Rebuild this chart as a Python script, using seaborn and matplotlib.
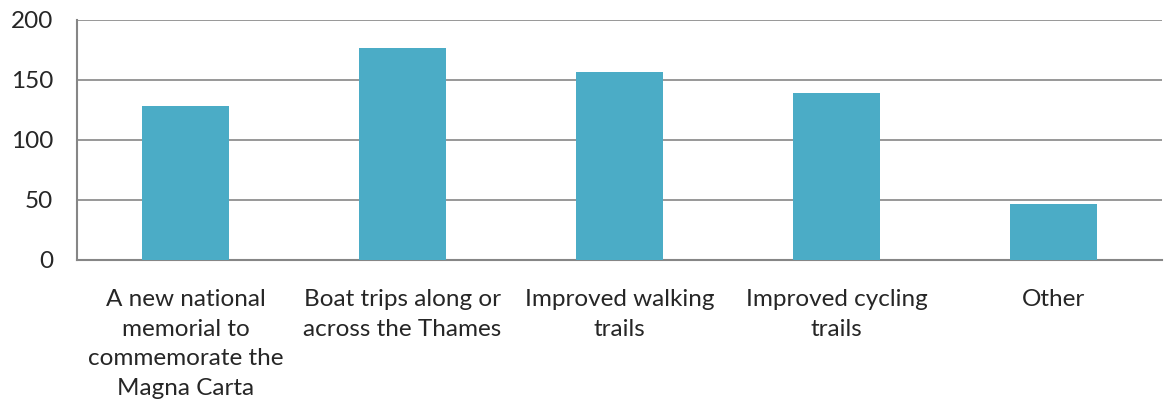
import numpy as np
import pandas as pd
import matplotlib
matplotlib.use('Agg')
import matplotlib.pyplot as plt
import seaborn as sns
from matplotlib.ticker import FixedLocator

categories = [
    'A new national\nmemorial to\ncommemorate the\nMagna Carta',
    'Boat trips along or\nacross the Thames',
    'Improved walking\ntrails',
    'Improved cycling\ntrails',
    'Other',
]
counts = [128, 177, 157, 139, 47]
y_ticks = [0, 50, 100, 150, 200]

bar_color = '#4BACC6'
grid_color = '#868686'

sns.set_style('white')
plt.rcParams['font.family'] = ['Lato', 'DejaVu Sans']

df = pd.DataFrame({'category': categories, 'count': counts})

fig = plt.figure(figsize=(11.64, 4.07), dpi=100)
ax = fig.add_axes([77 / 1164, 147 / 407, 1085 / 1164, 240 / 407])

sns.barplot(data=df, x='category', y='count', color=bar_color,
            width=0.4, saturation=1, linewidth=0, ax=ax, zorder=3)

ax.set_xlim(-0.5, len(categories) - 0.5)
ax.set_ylim(0, 200)
ax.set_yticks(y_ticks)
ax.yaxis.grid(True, color=grid_color, linewidth=1.2, zorder=0)
ax.set_axisbelow(True)

# tick marks sit between categories, labels in the middle
ax.xaxis.set_minor_locator(FixedLocator(np.arange(-0.5, len(categories), 1.0)))
ax.tick_params(axis='x', which='major', length=0, pad=21, labelsize=17.5)
ax.tick_params(axis='x', which='minor', length=8, width=1.2, color=grid_color, direction='out')
ax.tick_params(axis='y', length=8, width=1.2, color=grid_color, direction='out',
               labelsize=17.5, pad=9)
for lbl in ax.get_xticklabels():
    lbl.set_linespacing(1.5)
    lbl.set_verticalalignment('top')

for side in ['top', 'right']:
    ax.spines[side].set_visible(False)
for side in ['left', 'bottom']:
    ax.spines[side].set_color(grid_color)
    ax.spines[side].set_linewidth(1.5)

ax.set_xlabel('')
ax.set_ylabel('')

fig.savefig('out.png', dpi=100, facecolor='white')
